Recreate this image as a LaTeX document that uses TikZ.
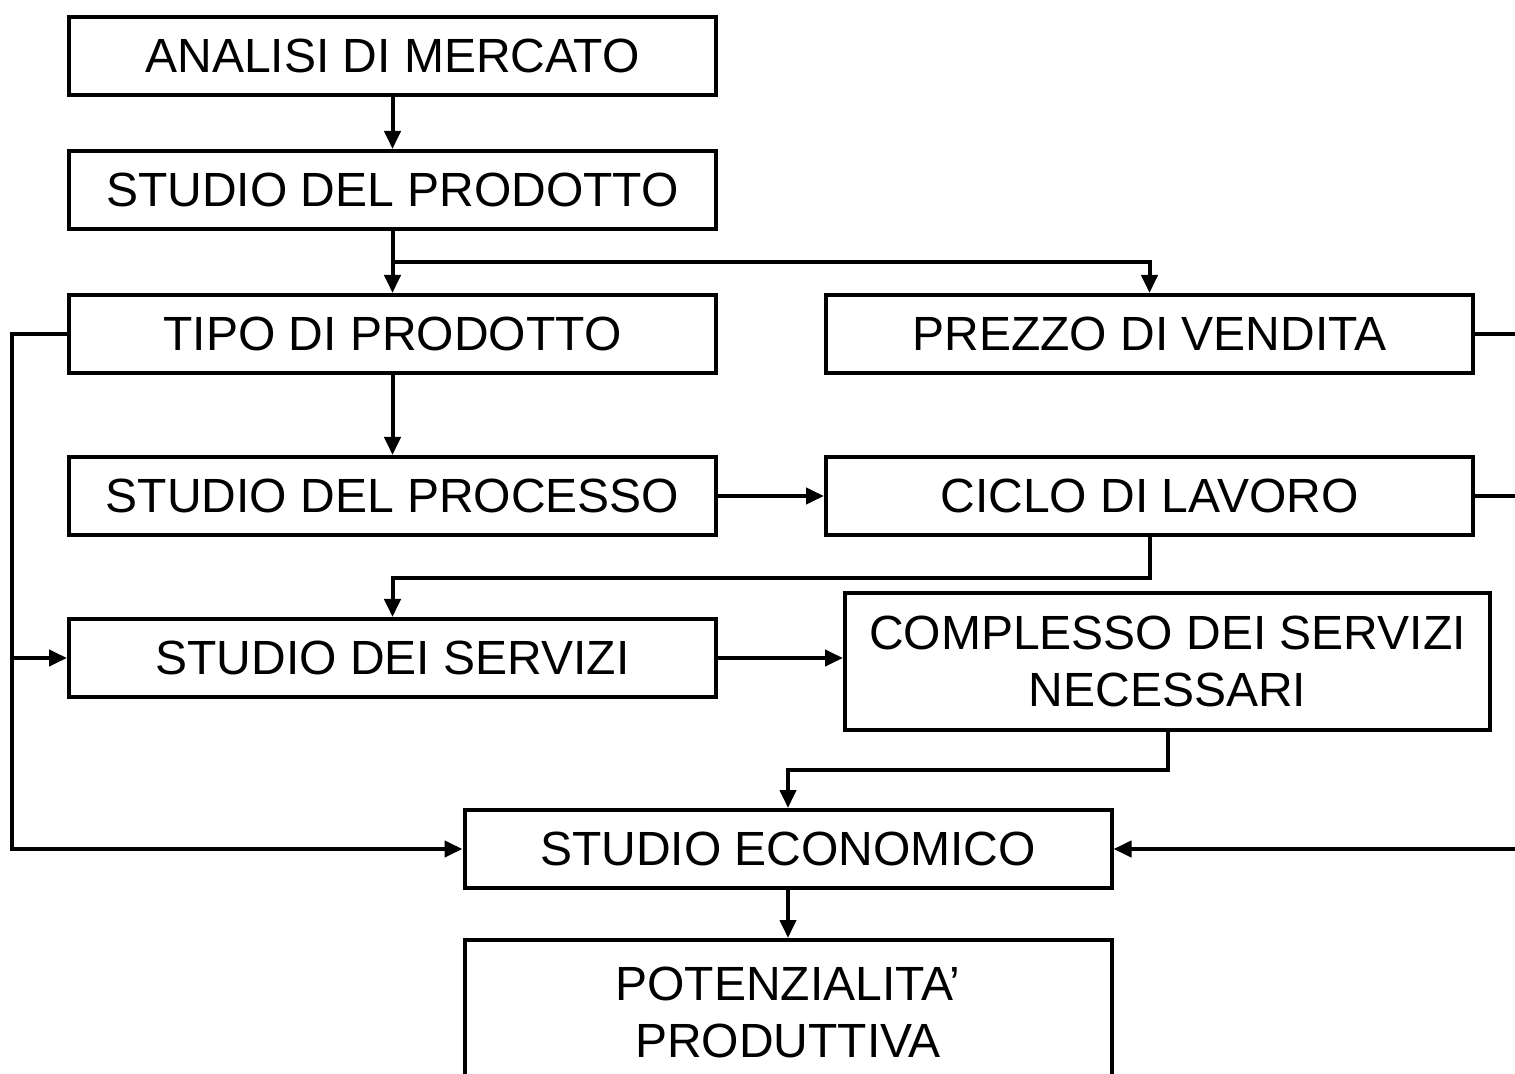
\documentclass[tikz,border=0pt]{standalone}
\usepackage{fontspec}
\setmainfont{Liberation Sans}
\usetikzlibrary{arrows.meta}
\begin{document}
\begin{tikzpicture}[x=0.5pt,y=-0.5pt,
 box/.style={draw, line width=2pt, minimum width=323.5pt, minimum height=39pt, inner sep=0pt,
   font=\fontsize{24}{28.5}\selectfont, align=center},
 conn/.style={line width=2pt},
 arr/.style={conn, -{Triangle[length=9pt,width=8pt]}}]
\useasboundingbox (0,0) rectangle (1515,1074);
\clip (0,0) rectangle (1515,1074);
\node[box] (am) at (392.5,56) {ANALISI DI MERCATO};
\node[box] (sp) at (392.5,190) {STUDIO DEL PRODOTTO};
\node[box] (tp) at (392.5,334) {TIPO DI PRODOTTO};
\node[box] (pv) at (1149.5,334) {PREZZO DI VENDITA};
\node[box] (spr) at (392.5,496) {STUDIO DEL PROCESSO};
\node[box] (cl) at (1149.5,496) {CICLO DI LAVORO};
\node[box] (ss) at (392.5,658) {STUDIO DEI SERVIZI};
\node[box, minimum width=322.5pt, minimum height=68.5pt] (cs) at (1167.5,661.5) {COMPLESSO DEI SERVIZI\\NECESSARI};
\node[box] (se) at (788,849) {STUDIO ECONOMICO};
\node[box, minimum height=72pt] (pp) at (788,1012) {POTENZIALITA’\\PRODUTTIVA};
% coordinates
\coordinate (j1) at (392.5,262);
\coordinate (lt) at (12,334);
\coordinate (lb) at (12,849);
\coordinate (b1) at (1149.5,578);
\coordinate (b2) at (1167.5,770);
\coordinate (r1) at (1530,334);
\coordinate (r2) at (1530,496);
\coordinate (r3) at (1530,849);
% connectors
\draw[arr] (am) -- (sp);
\draw[arr] (sp) -- (tp);
\draw[arr] (j1) -| (pv.north);
\draw[arr] (tp.west) -- (lt) -- (lb) -- (se.west);
\draw[arr] (lt |- ss.west) -- (ss.west);
\draw[arr] (tp) -- (spr);
\draw[arr] (spr) -- (cl);
\draw[arr] (cl.south) -- (b1) -| (ss.north);
\draw[arr] (ss.east) -- (cs.west |- ss.east);
\draw[arr] (cs.south) -- (b2) -| (se.north);
\draw[arr] (se) -- (pp);
\draw[conn] (pv.east) -- (r1);
\draw[conn] (cl.east) -- (r2);
\draw[arr] (r3) -- (se.east);
\end{tikzpicture}
\end{document}
